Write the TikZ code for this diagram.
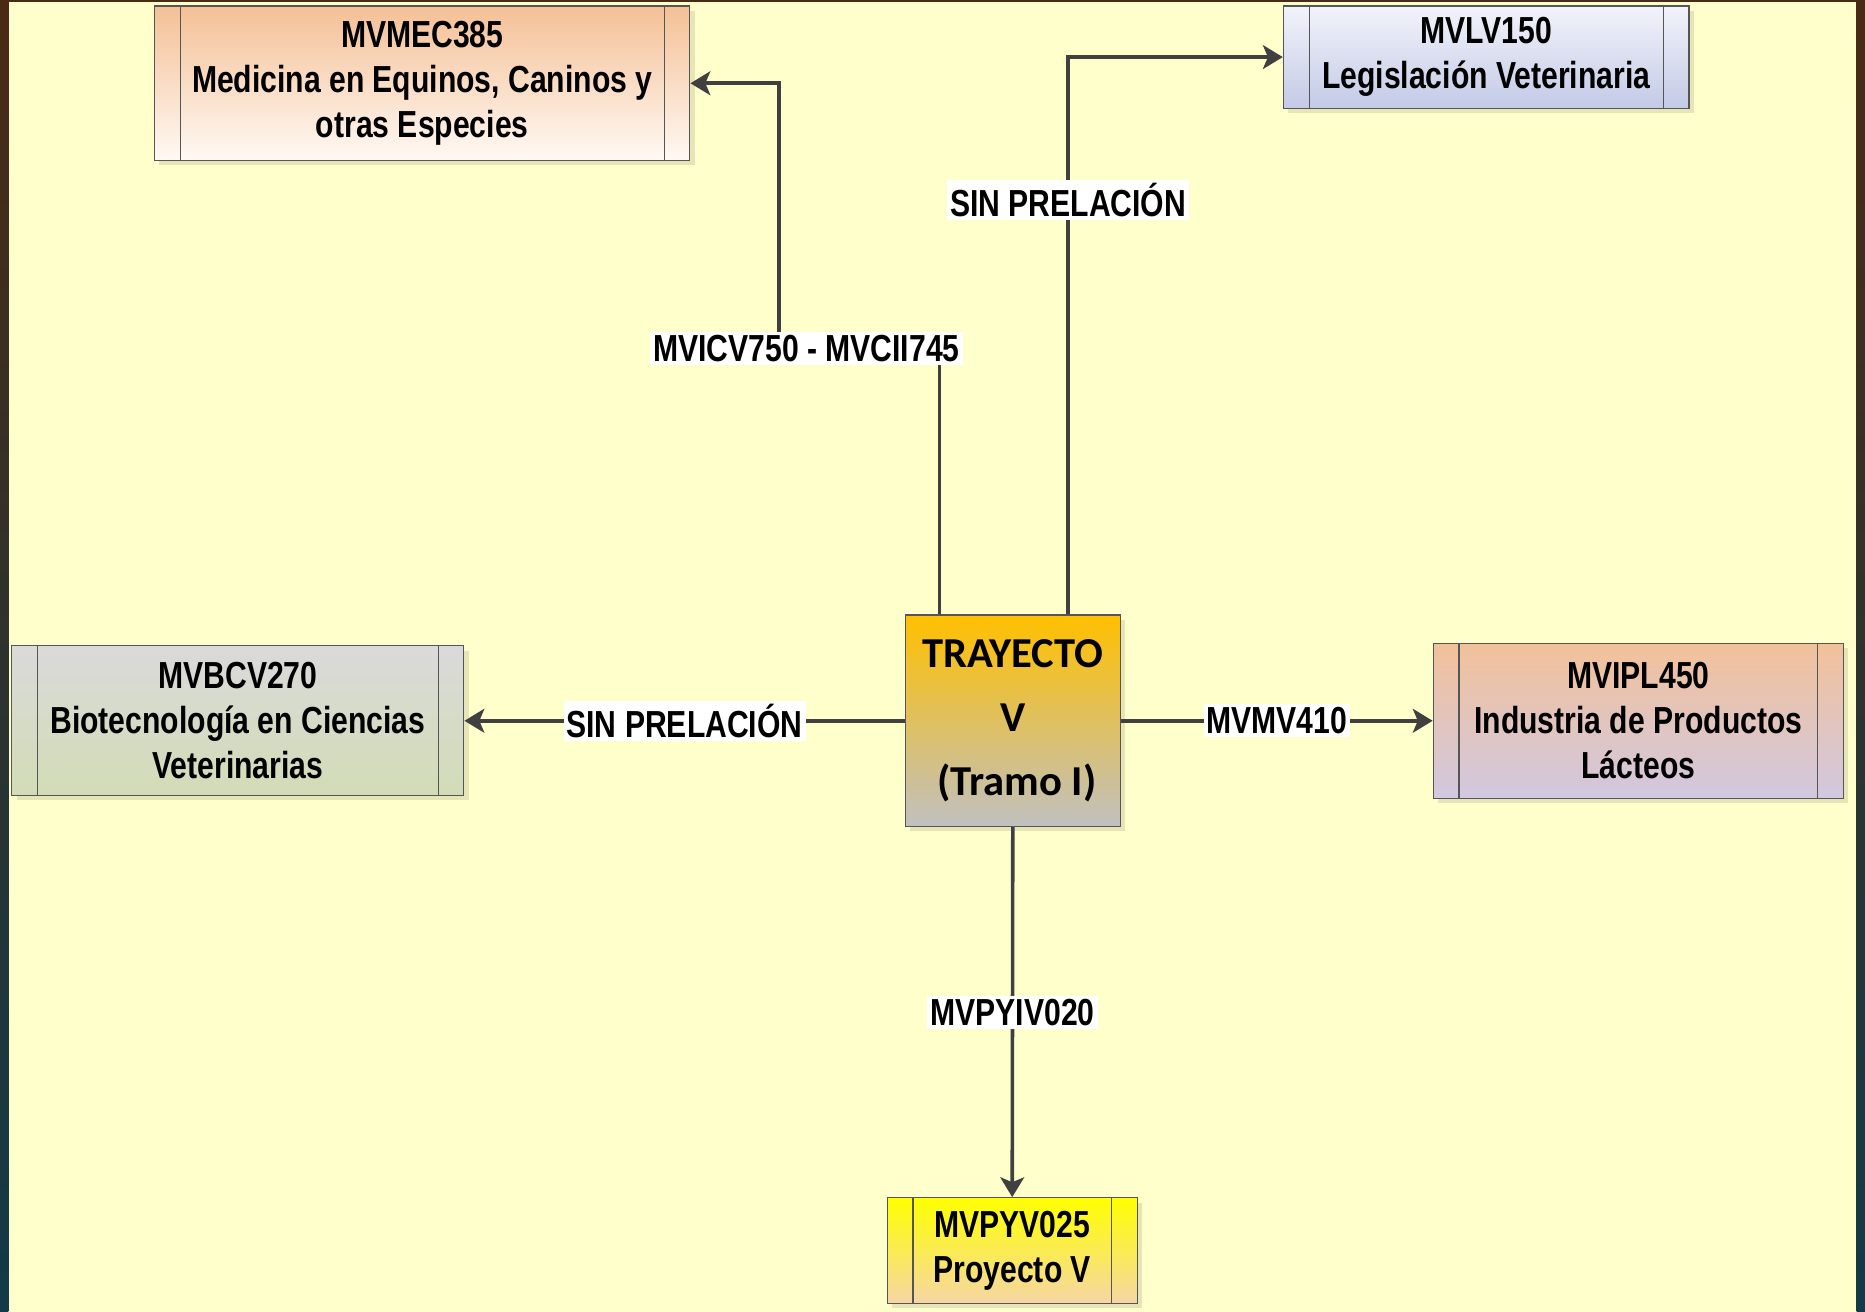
\documentclass[tikz,border=0pt]{standalone}
\usepackage{fontspec}
\newfontfamily\narrowfont{Liberation Sans}[FakeStretch=0.8]
\newfontfamily\trayfont{Carlito}
\usetikzlibrary{arrows.meta,shadows}
\definecolor{fondo}{HTML}{FFFFCC}
\definecolor{linea}{HTML}{404040}
\definecolor{borde}{HTML}{555555}
\definecolor{marcoA}{HTML}{4A2A14}
\definecolor{marcoB}{HTML}{123A48}
\definecolor{trajA}{HTML}{FFC000}
\definecolor{trajB}{HTML}{C0C0C0}
\definecolor{mecA}{HTML}{F4C096}
\definecolor{mecB}{HTML}{FFF9F4}
\definecolor{lvA}{HTML}{F2F3FA}
\definecolor{lvB}{HTML}{C3CAE6}
\definecolor{bcvA}{HTML}{DADADA}
\definecolor{bcvB}{HTML}{D2DCB6}
\definecolor{iplA}{HTML}{F2C19A}
\definecolor{iplB}{HTML}{D2C8E0}
\definecolor{pyvA}{HTML}{FFFF00}
\definecolor{pyvB}{HTML}{F6D6A6}

\begin{document}
\begin{tikzpicture}[x=0.6pt, y=-0.6pt,
  every node/.style={font=\narrowfont\bfseries\fontsize{19}{22.8}\selectfont, align=center, text=black},
  base/.style={draw=borde, line width=0.6pt, inner sep=0pt,
    drop shadow={shadow xshift=2.4pt, shadow yshift=-2.4pt, fill=black, opacity=0.1}},
  box/.style={base, path picture={
    \draw[borde, line width=0.6pt] ([xshift=13pt]path picture bounding box.north west) -- ([xshift=13pt]path picture bounding box.south west);
    \draw[borde, line width=0.6pt] ([xshift=-13pt]path picture bounding box.north east) -- ([xshift=-13pt]path picture bounding box.south east);}},
  lbl/.style={fill=white, inner sep=1.5pt},
  arr/.style={draw=linea, line width=1.8pt, -{Stealth[length=10pt, width=12pt, inset=2.5pt]}}]

\useasboundingbox (0,0) rectangle (1568,1103);
\fill[fondo] (0,0) rectangle (1568,1103);
\shade[top color=marcoA, bottom color=marcoB] (0,0) rectangle (7,1103);
\shade[top color=marcoA, bottom color=marcoB] (1561,0) rectangle (1568,1103);
\fill[marcoA] (0,0) rectangle (1568,2);

\node[base, top color=trajA, bottom color=trajB, minimum width=108.6pt, minimum height=106.8pt,
  font=\trayfont\bfseries\fontsize{21.5}{32.4}\selectfont] (traj) at (851.5,606) {TRAYECTO\\V\\\hspace{4pt}(Tramo I)};

\node[box, top color=mecA, bottom color=mecB, minimum width=270pt, minimum height=78pt]
  (mvmec) at (355,70) {MVMEC385\\Medicina en Equinos, Caninos y\\otras Especies};
\node[box, top color=lvA, bottom color=lvB, minimum width=204.6pt, minimum height=51.6pt]
  (mvlv) at (1249.5,48) {MVLV150\\Legislación Veterinaria};
\node[box, top color=bcvA, bottom color=bcvB, minimum width=228pt, minimum height=75.6pt]
  (mvbcv) at (200,606) {MVBCV270\\Biotecnología en Ciencias\\Veterinarias};
\node[box, top color=iplA, bottom color=iplB, minimum width=207pt, minimum height=78pt]
  (mvipl) at (1377.5,606) {MVIPL450\\Industria de Productos\\Lácteos};
\node[box, top color=pyvA, bottom color=pyvB, minimum width=126pt, minimum height=53.4pt]
  (mvpyv) at (851,1051.5) {MVPYV025\\Proyecto V};

\coordinate (c1) at (655,293);
\draw[arr] ([xshift=-36.9pt]traj.north) |- (c1) |- (mvmec.east);
\node[lbl] (l1) at (678,293) {MVICV750 - MVCII745};
\draw[arr] ([xshift=27.9pt]traj.north) |- node[lbl, pos=0.372] (l2) {SIN PRELACIÓN} (mvlv.west);
\draw[arr] (traj.west) -- node[lbl] (l3) {SIN PRELACIÓN} (mvbcv.east);
\draw[arr] (traj.east) -- node[lbl] (l4) {MVMV410} (mvipl.west);
\draw[arr] (traj.south) -- node[lbl] (l5) {MVPYIV020} (mvpyv.north);

\end{tikzpicture}
\end{document}
